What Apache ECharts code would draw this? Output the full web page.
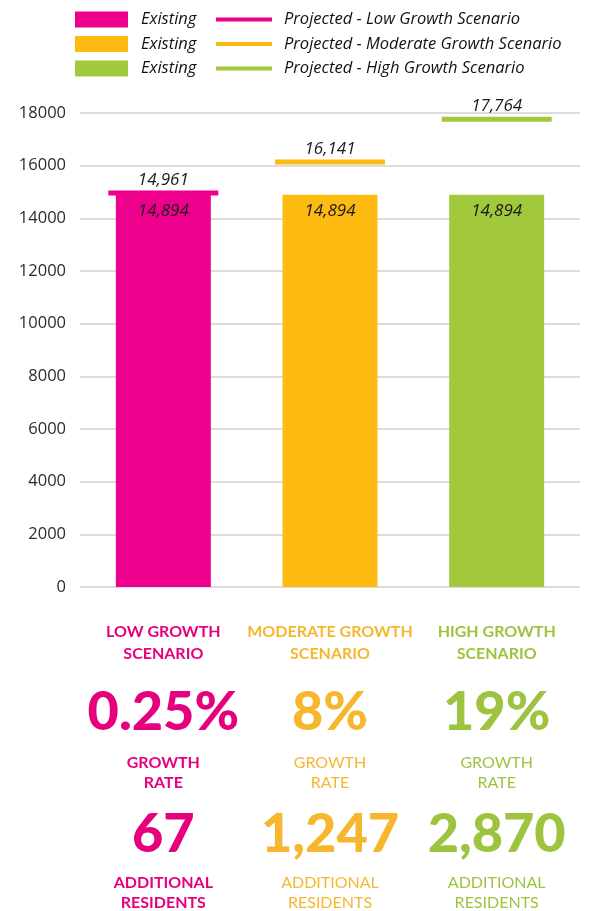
<!DOCTYPE html>
<html>
<head>
<meta charset="utf-8">
<script src="https://cdn.jsdelivr.net/npm/echarts@6/dist/echarts.min.js"></script>
<style>
  html, body { margin: 0; padding: 0; background: #fff; }
  #chart { width: 590px; height: 911px; }
</style>
</head>
<body>
<div id="chart"></div>
<script>
// values
var scenarios = ["Low", "Moderate", "High"];
var existing = [14894, 14894, 14894];
var projected = [14961, 16141, 17764];
var growthRates = ["0.25%", "8%", "19%"];
var additionalResidents = ["67", "1,247", "2,870"];
var titles = ["LOW GROWTH\nSCENARIO", "MODERATE GROWTH\nSCENARIO", "HIGH GROWTH\nSCENARIO"];

var barColors = ["#EC008C", "#FDBB12", "#A2C93C"];
var textColors = ["#E6007E", "#F6B72E", "#9DC33F"];

var fmt = function (v) {
  return Number(v).toLocaleString("en-US");
};

var chart = echarts.init(document.getElementById("chart"));

var series = [];
scenarios.forEach(function (s, i) {
  var d = scenarios.map(function (x, j) { return j === i ? existing[j] : "-"; });
  series.push({
    name: "Existing " + s,
    type: "bar",
    data: d,
    barWidth: 95,
    barGap: "-100%",
    itemStyle: { color: barColors[i] },
    label: {
      show: true,
      position: "insideTop",
      distance: 8,
      color: "#1a1a1a",
      fontStyle: "italic",
      fontSize: 17,
      fontFamily: "Open Sans",
      formatter: function (p) { return fmt(p.value); }
    }
  });
});
scenarios.forEach(function (s, i) {
  var d = scenarios.map(function (x, j) { return j === i ? projected[j] : "-"; });
  series.push({
    name: "Projected - " + s + " Growth Scenario",
    type: "scatter",
    data: d,
    symbol: "rect",
    symbolSize: [110, 5],
    itemStyle: { color: barColors[i], opacity: 1 },
    label: {
      show: true,
      position: "top",
      distance: 2,
      color: "#1a1a1a",
      fontStyle: "italic",
      fontSize: 17,
      fontFamily: "Open Sans",
      formatter: function (p) { return fmt(p.value); }
    }
  });
});

var legendText = {
  color: "#111",
  fontStyle: "italic",
  fontSize: 16.5,
  fontFamily: "Open Sans",
  lineHeight: 17
};

chart.setOption({
  animation: false,
  legend: [
    {
      data: scenarios.map(function (s) { return "Existing " + s; }),
      orient: "vertical",
      left: 70,
      top: 6,
      icon: "rect",
      itemWidth: 53,
      itemHeight: 16,
      itemGap: 7.5,
      selectedMode: false,
      formatter: function () { return "Existing"; },
      textStyle: Object.assign({ padding: [0, 0, 0, 8] }, legendText)
    },
    {
      data: scenarios.map(function (s) { return "Projected - " + s + " Growth Scenario"; }),
      orient: "vertical",
      left: 211,
      top: 6,
      icon: "rect",
      itemWidth: 56,
      itemHeight: 4,
      itemGap: 7.5,
      selectedMode: false,
      itemStyle: { opacity: 1 },
      textStyle: Object.assign({ padding: [0, 0, 0, 7] }, legendText)
    }
  ],
  grid: { left: 80, right: 10, top: 113, bottom: 324 },
  xAxis: {
    type: "category",
    data: scenarios,
    axisLine: { show: false },
    axisTick: { show: false },
    axisLabel: { show: false }
  },
  yAxis: {
    type: "value",
    min: 0,
    max: 18000,
    interval: 2000,
    axisLine: { show: false },
    axisTick: { show: false },
    axisLabel: {
      color: "#2b2b2b",
      fontSize: 16.5,
      fontFamily: "Open Sans",
      margin: 14,
      formatter: function (v) { return String(v); }
    },
    splitLine: { lineStyle: { color: "#dcdcdc", width: 2 } }
  },
  series: series
});

// scenario summaries under the bars, centred on each category
var graphics = [];
scenarios.forEach(function (s, i) {
  var cx = chart.convertToPixel({ gridIndex: 0 }, [i, 0])[0];
  var weight = i === 0 ? "bold" : "normal";
  var add = function (text, y, size, w, lh) {
    graphics.push({
      type: "text",
      x: cx,
      y: y,
      style: {
        text: text,
        fill: textColors[i],
        fontFamily: "Lato",
        fontSize: size,
        fontWeight: w,
        lineHeight: lh,
        align: "center",
        verticalAlign: "middle"
      }
    });
  };
  add(titles[i], 643, 16, "bold", 22);
  add(growthRates[i], 713, 54, 900, 56);
  add("GROWTH\nRATE", 773, 16, weight, 20);
  add(additionalResidents[i], 835, 54, 900, 56);
  add("ADDITIONAL\nRESIDENTS", 893, 16, weight, 20);
});
chart.setOption({ graphic: graphics });
</script>
</body>
</html>
